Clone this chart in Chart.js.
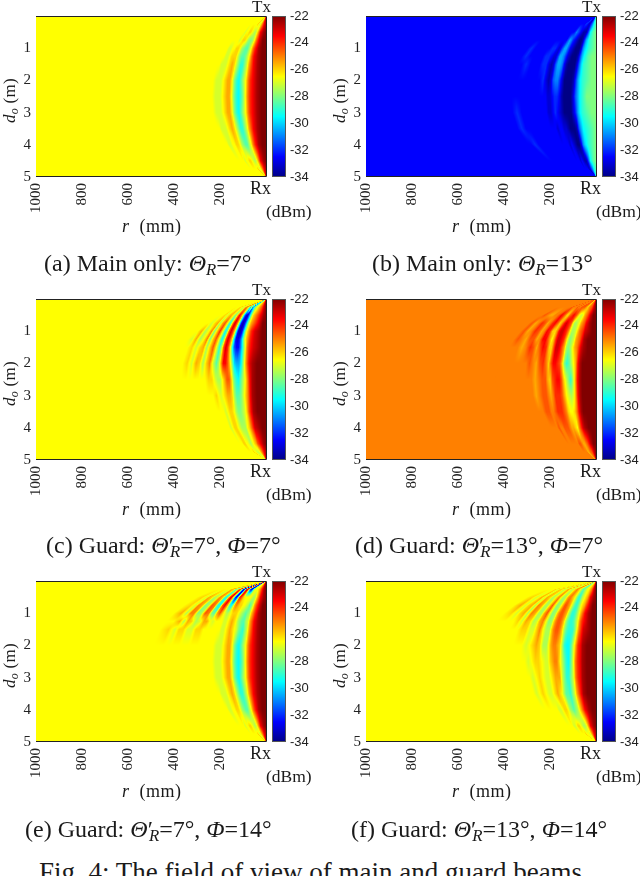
<!DOCTYPE html>
<html>
<head>
<meta charset="utf-8">
<title>Field of view of main and guard beams</title>
<script src="https://cdn.jsdelivr.net/npm/chart.js@4"></script>
<style>
    html, body { margin: 0; padding: 0; background: #fff; }
    body { position: relative; width: 640px; height: 876px; overflow: hidden; font-family: "Liberation Serif", serif; color: #1a1a1a; }
    canvas { position: absolute; }
    .txt { position: absolute; white-space: nowrap; line-height: 1; }
    .txt sub { font-size: 70%; line-height: 0; vertical-align: -0.25em; }
</style>
</head>
<body>
<script>
// Axis ticks
const rTicks = [1000, 800, 600, 400, 200];
const dTicks = [1, 2, 3, 4, 5];
const powerTicks = [-34, -32, -30, -28, -26, -24, -22];

// Colour limits of the power map (dBm)
const powerMin = -34;
const powerMax = -22;

// Receive positions along the link (m), one table row for each of tableRows
const tableRows = [0.25, 0.5, 0.75, 1, 1.25, 1.5, 2, 2.5, 3, 3.5, 4, 4.5, 4.75];

// How far a Fresnel arc reaches at each position, relative to midway
const arcRows = [0, 0.25, 0.5, 0.75, 1, 1.25, 1.5, 2, 2.5, 3, 3.5, 4, 4.5, 4.75, 5];
const arcReach = [0, 0.44, 0.6, 0.71, 0.8, 0.87, 0.92, 0.98, 1, 0.98, 0.92, 0.8, 0.6, 0.44, 0];

// Table columns: distance from the link (mm) that an arc has midway
const arcColumns = [0, 20, 40, 60, 70, 80, 90, 100, 110, 120, 130, 140, 150, 160, 170, 180, 190, 200,
    210, 220, 235, 250, 265, 280, 295, 310, 330, 350, 370, 390, 410, 430, 460, 500];

// Measured power: a=-34 dBm, each next letter +0.5 dB, y=-22 dBm.
// A row shorter than arcColumns keeps its last value out to the far field.
const mainTheta7 = [
    'xvropqp',
    'yxvqonopqqppop',
    'yywspnmmnpqqpop',
    'yyxuspnllmnpqqppoop',
    'yyxvtqomllmoqqqpoop',
    'yyxvtromkkmoqrqpooop',
    'yyxvuspnljkmprrqpooop',
    'yyxvuspmkjkmprrqpooop',
    'yyxvuspnljkmprrqpooop',
    'yyxvtromkkmoqrqpooop',
    'yyxuspnllmnpqqppoop',
    'yxvqonopqqppop',
    'xvropqp'
];
const mainTheta13 = [
    'ljfccdeed',
    'mljdbbbcdefged',
    'mlkhebaabcdeghfd',
    'mlkigcaaabcdfhhfdcdeedddddded',
    'mmljhebaaabceghheccdeeddddded',
    'mmlkifcaaaabdghhfcbceedddded',
    'mmlkjhebaaaaceggfcbced',
    'mmmkjhfcaaaabdeedccd',
    'mmlkjhecaaaabcdedccdddddddded',
    'mlkjhfbaaabccddcddddddddddded',
    'mlkigcaabcdcdddddddddddddded',
    'mljdbbcdcd',
    'ljfccddd'
];
const guardTheta7Phi7 = [
    'ywtrqponligqimprsrpopqp',
    'yxvtsrqokgccfkqtvsomprqoqp',
    'yywutsrpmhdbdjquwtnjptrnrqop',
    'yyxwvusqnidbcjquwtmjpuqmspnrp',
    'yyxwvusqniecdjquwtmjptqmspnrop',
    'yyxwvusokgddfkquwtnkptqnrqoqp',
    'yyyxwurnjhhimqtvvrnlosqnqroqp',
    'yyyxvspnljkmqttrpnnoqqp',
    'yyyxvsqomllnqrrqpopqp',
    'yyyxvtqonmmnpqqpop',
    'yyxwusqpnnnopqqpop',
    'yxvtrqponoppqqp',
    'xvspoooppqp'
];
const guardTheta13Phi7 = [
    'ywtsrqrsttttssstssssts',
    'yywtsrpooprtuvutsqqsuvtssrrsts',
    'yyxvtsrponnptuvwvtrqtvusrtusrts',
    'yyxwutsqonnpsuvwwvsqquvsrtusrts',
    'yyyxvtsronmoruvwwurpsvvsrttrsts',
    'yyyxwusrpnmnrtvwwtqquvtrtusrs',
    'yyyyxvrpnlkmqtuvvtqsutrsts',
    'yyyyxvrnkmoqtvvutqrttsrs',
    'yyyyxvronoprtuuusrsttsrs',
    'yyyyxvsqppqstuuutsstts',
    'yyyxwuspqrrstttsstss',
    'yywtsrrsttsss',
    'ywtsrrsss'
];
const guardTheta7Phi14 = [
    'yxurqpppokecelt' + 'wukcdpvrmmqrp',
    'yxvrpnnoppppp' + 'qsuukdeqwskk' + 'qsonqroqp',
    'yywtromlnoppqqrsrnjkrvtjkstnmrsoqp',
    'yyxusqnmlmnopqqqponoqtrlmstnmssnrp',
    'yyxvtronllmnpqrqpoopppoprronqrnrp',
    'yyxvtromklmopqrqpooppppppqqooqqoqp',
    'yyxvuspnljkmprrqpooop',
    'yyxvuspmkjkmprrqpooop',
    'yyxvuspnljkmprrqpooop',
    'yyxvtromkkmoqrqpooop',
    'yyxuspnllmnpqqppoop',
    'yxvqonopqqppop',
    'xvropqp'
];
const guardTheta13Phi14 = [
    'ywsqpponmlmnpqrsrqpooprqooqqoqp',
    'yxvrqponlklnpqrssrpnnpsqonqrorpoqp',
    'yywtrqpnlklnprsttrpnmptqnnrsnrqorp',
    'yyxvtrpnlkkmorsttsqnmptrnnrsnrqoqp',
    'yyxvuspnlkklnqsttsqnmpsronqroqp',
    'yyxwuspmkkklnqsttsqnnpsqooqqp',
    'yyyxvuroljjknqrssrpnnqrqpop',
    'yyyxvusoljkmoqssrqoopqqpop',
    'yyyxvusomkkmorrrqpoopqpop',
    'yyyxvtromkllnpqrqpoopqpop',
    'yyxvtrpnmlmnpqqpoop',
    'yxvqonnopqqpoop',
    'xvropppqp'
];

// Jet colour stops: position, red, green, blue
const jetStops = [
    [0, 0, 0, 0.52],
    [0.125, 0, 0, 1],
    [0.375, 0, 1, 1],
    [0.625, 1, 1, 0],
    [0.875, 1, 0, 0],
    [1, 0.5, 0, 0]
];

// Piecewise lookup in a sorted list, returns index and fraction
function locate(list, v) {
    if (v <= list[0]) return [0, 0];
    const last = list.length - 1;
    if (v >= list[last]) return [last, 0];
    let i = 0;
    while (list[i + 1] <= v) i++;
    return [i, (v - list[i]) / (list[i + 1] - list[i])];
}

function jetColor(power) {
    const f = Math.min(1, Math.max(0, (power - powerMin) / (powerMax - powerMin)));
    let i = 0;
    while (i < jetStops.length - 2 && jetStops[i + 1][0] <= f) i++;
    const a = jetStops[i], b = jetStops[i + 1];
    const t = (f - a[0]) / (b[0] - a[0]);
    return [1, 2, 3].map(c => Math.round(255 * (a[c] + (b[c] - a[c]) * t)));
}

function cellPower(rows, row, col) {
    const text = rows[row];
    const ch = text[Math.min(col, text.length - 1)];
    return powerMin + 0.5 * (ch.charCodeAt(0) - 97);
}

// Power at a point (shaded like pcolor interp)
function powerAt(rows, r, d) {
    const [a, af] = locate(arcRows, d);
    const reach = arcReach[a] + (a < arcReach.length - 1 ? (arcReach[a + 1] - arcReach[a]) * af : 0);
    const mid = reach > 0 ? r / reach : 1e6;
    const [i, fi] = locate(tableRows, d);
    const [j, fj] = locate(arcColumns, mid);
    const i2 = Math.min(i + 1, rows.length - 1);
    const j2 = Math.min(j + 1, arcColumns.length - 1);
    const top = cellPower(rows, i, j) * (1 - fj) + cellPower(rows, i, j2) * fj;
    const bot = cellPower(rows, i2, j) * (1 - fj) + cellPower(rows, i2, j2) * fj;
    return top * (1 - fi) + bot * fi;
}

// Paints the power map, plot frame and colour bar through the chart scales
const heatmapPlugin = {
    id: 'heatmap',
    beforeDraw(chart, args, opts) {
        const { ctx, chartArea: area, scales } = chart;
        const w = Math.round(area.right - area.left);
        const h = Math.round(area.bottom - area.top);
        const img = ctx.createImageData(w, h);
        for (let y = 0; y < h; y++) {
            const d = scales.y.getValueForPixel(area.top + y + 0.5);
            for (let x = 0; x < w; x++) {
                const r = scales.x.getValueForPixel(area.left + x + 0.5);
                const c = jetColor(powerAt(opts.rows, r, d));
                const p = (y * w + x) * 4;
                img.data[p] = c[0];
                img.data[p + 1] = c[1];
                img.data[p + 2] = c[2];
                img.data[p + 3] = 255;
            }
        }
        ctx.putImageData(img, Math.round(area.left), Math.round(area.top));

        // Frame: top, bottom and right only
        ctx.save();
        ctx.strokeStyle = '#222';
        ctx.lineWidth = 1;
        ctx.beginPath();
        ctx.moveTo(area.left, area.top + 0.5);
        ctx.lineTo(area.right + 0.5, area.top + 0.5);
        ctx.lineTo(area.right + 0.5, area.bottom - 0.5);
        ctx.lineTo(area.left, area.bottom - 0.5);
        ctx.stroke();

        // Colour bar
        const barLeft = area.right + 6;
        const barWidth = 13;
        for (let y = Math.round(area.top); y < area.bottom; y++) {
            const c = jetColor(scales.colorbar.getValueForPixel(y + 0.5));
            ctx.fillStyle = `rgb(${c[0]},${c[1]},${c[2]})`;
            ctx.fillRect(barLeft, y, barWidth, 1);
        }
        ctx.strokeStyle = '#555';
        ctx.strokeRect(barLeft + 0.5, area.top + 0.5, barWidth, area.bottom - area.top - 1);
        ctx.restore();
    }
};

function fixedTicks(list) {
    return scale => { scale.ticks = list.map(value => ({ value })); };
}

function drawPanel(id, left, top, width, rows) {
    const canvas = document.createElement('canvas');
    canvas.id = id;
    canvas.width = width;
    canvas.height = 240;
    canvas.style.left = left + 'px';
    canvas.style.top = top + 'px';
    canvas.style.width = width + 'px';
    canvas.style.height = '240px';
    document.body.appendChild(canvas);

    const serif = { family: '"Liberation Serif", serif', size: 15 };
    const plainLabel = v => String(v);
    // Vertical axes must not widen the plot for half a tick label
    const fitVertical = size => s => { s.width = size; s.paddingTop = 0; s.paddingBottom = 0; };
    new Chart(canvas.getContext('2d'), {
        type: 'scatter',
        data: { datasets: [] },
        plugins: [heatmapPlugin],
        options: {
            responsive: false,
            animation: false,
            events: [],
            layout: { padding: { top: 16 } },
            plugins: {
                legend: { display: false },
                tooltip: { enabled: false },
                heatmap: { rows }
            },
            scales: {
                x: {
                    type: 'linear',
                    min: 0,
                    max: 1000,
                    reverse: true,
                    afterBuildTicks: fixedTicks(rTicks),
                    afterFit: s => { s.height = 63; s.paddingLeft = 0; s.paddingRight = 0; },
                    grid: { display: false, drawTicks: false },
                    border: { display: false },
                    ticks: { color: '#222', font: serif, minRotation: 90, maxRotation: 90, autoSkip: false, padding: 6, callback: plainLabel }
                },
                y: {
                    type: 'linear',
                    position: 'left',
                    min: 0,
                    max: 5,
                    reverse: true,
                    afterBuildTicks: fixedTicks(dTicks),
                    afterFit: fitVertical(36),
                    grid: { display: false, drawTicks: false },
                    border: { display: false },
                    ticks: { color: '#222', font: serif, autoSkip: false, padding: 5, callback: plainLabel }
                },
                colorbar: {
                    type: 'linear',
                    axis: 'y',
                    position: 'right',
                    min: powerMin,
                    max: powerMax,
                    afterBuildTicks: fixedTicks(powerTicks),
                    afterFit: fitVertical(width - 266),
                    grid: { display: false, drawTicks: false },
                    border: { display: false },
                    ticks: {
                        color: '#222',
                        font: { family: '"Liberation Sans", sans-serif', size: 13 },
                        autoSkip: false,
                        padding: 24,
                        callback: plainLabel
                    }
                }
            }
        }
    });
}

// Places text by its baseline
function addText(html, x, baseline, size, extra) {
    const el = document.createElement('div');
    el.className = 'txt';
    el.innerHTML = html;
    el.style.left = x + 'px';
    el.style.top = (baseline - size * 0.89) + 'px';
    el.style.fontSize = size + 'px';
    if (extra) Object.assign(el.style, extra);
    document.body.appendChild(el);
    return el;
}

function panelLabels(left, top) {
    addText('Tx', left + 252, top + 13, 17);
    addText('Rx', left + 250, top + 195, 18);
    addText('(dBm)', left + 266, top + 219, 17.5);
    addText('<i>r</i>&nbsp; (mm)', left + 122, top + 233, 18, { letterSpacing: '0.5px' });
    addText('<i>d<sub>o</sub></i>&nbsp;(m)', left + 1, top + 138, 17, { transform: 'rotate(-90deg)', transformOrigin: '0 0', letterSpacing: '0.3px' });
}

const theta = '<i>&Theta;</i>';
const phi = '<i>&Phi;</i>';
const primeSub = '&prime;<sub style="margin-left:-4px"><i>R</i></sub>';
const panels = [
    { id: 'mainSeven', left: 0, top: 0, width: 320, rows: mainTheta7, capX: 44, capY: 272, cap: `(a) Main only: ${theta}<sub><i>R</i></sub>=7&deg;` },
    { id: 'mainThirteen', left: 330, top: 0, width: 310, rows: mainTheta13, capX: 372, capY: 272, cap: `(b) Main only: ${theta}<sub><i>R</i></sub>=13&deg;` },
    { id: 'guardSevenSeven', left: 0, top: 283, width: 320, rows: guardTheta7Phi7, capX: 46, capY: 554, cap: `(c) Guard: ${theta}${primeSub}=7&deg;, ${phi}=7&deg;` },
    { id: 'guardThirteenSeven', left: 330, top: 283, width: 310, rows: guardTheta13Phi7, capX: 355, capY: 554, cap: `(d) Guard: ${theta}${primeSub}=13&deg;, ${phi}=7&deg;` },
    { id: 'guardSevenFourteen', left: 0, top: 565, width: 320, rows: guardTheta7Phi14, capX: 25, capY: 838, cap: `(e) Guard: ${theta}${primeSub}=7&deg;, ${phi}=14&deg;` },
    { id: 'guardThirteenFourteen', left: 330, top: 565, width: 310, rows: guardTheta13Phi14, capX: 351, capY: 838, cap: `(f) Guard: ${theta}${primeSub}=13&deg;, ${phi}=14&deg;` }
];

panels.forEach(p => {
    drawPanel(p.id, p.left, p.top, p.width, p.rows);
    panelLabels(p.left, p.top);
    addText(p.cap, p.capX, p.capY, 24);
});

addText('Fig. 4: The field of view of main and guard beams.', 39, 883, 27);
</script>
</body>
</html>
